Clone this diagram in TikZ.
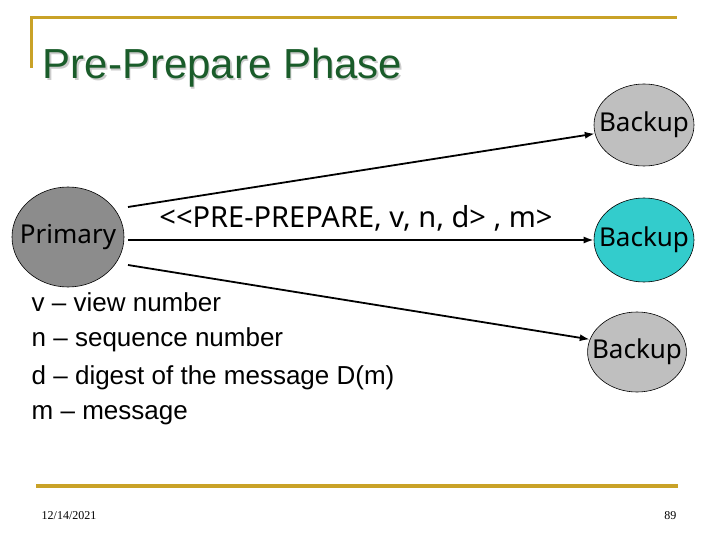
\documentclass[tikz,border=0pt]{standalone}
\usepackage{fontspec}
\setmainfont{Liberation Sans}
\newfontfamily\nodefont{Noto Sans}
\newfontfamily\footfont{Liberation Serif}
\definecolor{gold}{HTML}{C9A227}
\definecolor{titlegreen}{HTML}{1A5C2A}
\definecolor{cyanfill}{HTML}{33CCCC}
\tikzset{every picture/.style={line width=0.75pt}}
\tikzset{
  peer/.style={ellipse, draw, line width=0.6pt, inner xsep=-10pt, inner ysep=0pt, font=\nodefont\fontsize{26}{30}\selectfont},
  msg/.style={-{Latex[length=10pt,width=7pt]}, line width=1.8pt},
  legend/.style={anchor=west, font=\fontsize{26}{30}\selectfont}
}
\usetikzlibrary{shapes.geometric,arrows.meta}
\begin{document}
\begin{tikzpicture}[x=1pt,y=1pt,yscale=-1]
\useasboundingbox (0,0) rectangle (720,540);

% slide frame
\draw [gold, line width=3pt] (30,18) -- (677,18) ;
\draw [gold, line width=3pt] (31,18) -- (31,68) ;
\draw [gold, line width=4pt] (36,486) -- (678,486) ;

% title
\node [anchor=west, gray!40, font=\fontsize{42}{46}\selectfont] at (40.5,69.5) {Pre-Prepare Phase};
\node (title) [anchor=west, titlegreen, font=\fontsize{42}{46}\selectfont] at (39,68) {Pre-Prepare Phase};

% replicas
\node (primary) [peer, fill=black!45, minimum width=112pt, minimum height=100pt] at (68,237) {Primary};
\node (backupA) [peer, fill=black!25, minimum width=100pt, minimum height=82pt] at (644,125) {Backup};
\node (backupB) [peer, fill=cyanfill, minimum width=100pt, minimum height=84pt] at (644,240) {Backup};
\node (backupC) [peer, fill=black!25, minimum width=94pt, minimum height=80pt] at (637,352) {Backup};

% messages
\coordinate (outA) at (128,207);
\coordinate (outB) at (128,240);
\coordinate (outC) at (128,265);
\draw [msg] (outA) -- (backupA.190) ;
\draw [msg] (outB) -- (backupB.west) ;
\draw [msg] (outC) -- (backupC.165) ;
\node (label) [font=\nodefont\fontsize{29}{33}\selectfont] at (356,218) {<<PRE-PREPARE, v, n, d> , m>};

% legend
\node (lv) [legend] at (28,302) {v -- view number};
\node (ln) [legend] at (28,340) {n -- sequence number};
\node (ld) [legend] at (28,378) {d -- digest of the message D(m)};
\node (lm) [legend] at (28,415) {m -- message};

% footer
\node (date) [anchor=west, font=\footfont\fontsize{12}{14}\selectfont] at (38,516) {12/14/2021};
\node (page) [anchor=east, font=\footfont\fontsize{12}{14}\selectfont] at (680,516) {89};

\end{tikzpicture}
\end{document}
